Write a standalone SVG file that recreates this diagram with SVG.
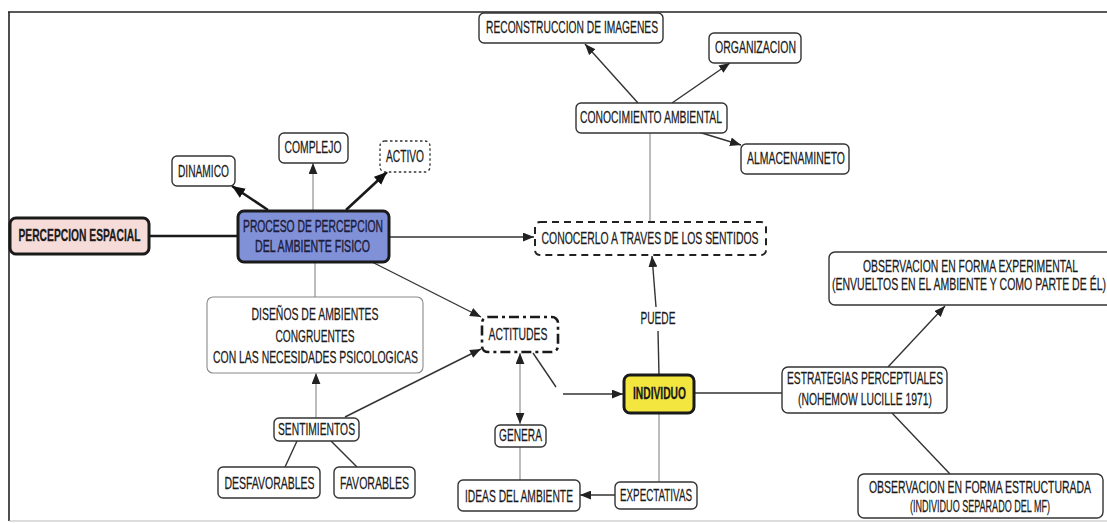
<svg xmlns="http://www.w3.org/2000/svg" width="1107" height="523" viewBox="0 0 1107 523">
  <style>
    .box { fill: #ffffff; stroke: #333333; stroke-width: 1.4; }
    .lite { fill: #ffffff; stroke: #8a8a8a; stroke-width: 1.1; }
    /* labels are set in a horizontally compressed sans (scale 0.66 on x) */
    .t { font-family: "Liberation Sans", Arial, sans-serif; font-size: 16px; fill: #1a1a1a; stroke: #1a1a1a; stroke-width: 0.25; text-anchor: middle; dominant-baseline: central; }
    .m { font-size: 17px; }
    .b { font-weight: bold; font-size: 16px; }
    .nv { fill: #1c1c3a; stroke: #1c1c3a; stroke-width: 0.4; }
    .ln { fill: none; stroke: #333333; stroke-width: 1.4; }
    .thin { fill: none; stroke: #7a7a7a; stroke-width: 1; }
    .thick { fill: none; stroke: #1a1a1a; stroke-width: 2.6; }
  </style>
  <defs>
    <marker id="arr" viewBox="0 0 10 8" refX="10" refY="4" markerWidth="11" markerHeight="9" markerUnits="userSpaceOnUse" orient="auto-start-reverse">
      <path d="M0,0 L10,4 L0,8 z" fill="#222222"/>
    </marker>
    <marker id="arrB" viewBox="0 0 12 10" refX="12" refY="5" markerWidth="13" markerHeight="11" markerUnits="userSpaceOnUse" orient="auto">
      <path d="M0,0 L12,5 L0,10 z" fill="#111111"/>
    </marker>
  </defs>

  <rect width="1107" height="523" fill="#ffffff"/>

  <!-- outer frame -->
  <g id="frame" fill="none" stroke="#222222">
    <line x1="8" y1="12" x2="1107" y2="12" stroke-width="1.6"/>
    <line x1="9" y1="12" x2="9" y2="521" stroke-width="1.6"/>
    <line x1="9" y1="521" x2="1107" y2="521" stroke="#bbbbbb" stroke-width="1"/>
  </g>

  <!-- connectors -->
  <g id="connectors">
    <line class="thick" x1="149" y1="236" x2="238" y2="236"/>
    <line class="thick" x1="268" y1="210" x2="232" y2="186" marker-end="url(#arrB)"/>
    <line class="thin" x1="313" y1="211" x2="313" y2="163" marker-end="url(#arr)"/>
    <line class="thick" x1="346" y1="210" x2="387" y2="172" marker-end="url(#arrB)"/>
    <line class="ln" x1="389" y1="237" x2="534" y2="237" marker-end="url(#arr)"/>
    <line class="ln" x1="372" y1="262" x2="481" y2="317" marker-end="url(#arr)"/>
    <line class="thin" x1="315" y1="262" x2="315" y2="297"/>
    <line class="ln" x1="638" y1="103" x2="585" y2="44" marker-end="url(#arr)"/>
    <line class="ln" x1="672" y1="103" x2="730" y2="63" marker-end="url(#arr)"/>
    <line class="ln" x1="692" y1="130" x2="741" y2="145" marker-end="url(#arr)"/>
    <line class="thin" x1="650" y1="133" x2="650" y2="222"/>
    <line class="ln" x1="659" y1="375" x2="658" y2="331"/>
    <line class="ln" x1="656" y1="307" x2="652" y2="256" marker-end="url(#arr)"/>
    <line class="thin" x1="316" y1="418" x2="316" y2="373" marker-end="url(#arr)"/>
    <line class="ln" x1="345" y1="417" x2="481" y2="349" marker-end="url(#arr)"/>
    <line class="ln" x1="297" y1="441" x2="285" y2="467"/>
    <line class="ln" x1="331" y1="441" x2="357" y2="467"/>
    <line class="thin" x1="520" y1="353" x2="520" y2="424" marker-start="url(#arr)" marker-end="url(#arr)"/>
    <line class="thin" x1="520" y1="447" x2="520" y2="480"/>
    <line class="ln" x1="533" y1="353" x2="556" y2="387"/>
    <line class="ln" x1="563" y1="394" x2="623" y2="394" marker-end="url(#arr)"/>
    <line class="thin" x1="659" y1="413" x2="659" y2="482"/>
    <line class="ln" x1="615" y1="495" x2="580" y2="495" marker-end="url(#arr)"/>
    <line class="ln" x1="694" y1="393" x2="782" y2="393"/>
    <line class="ln" x1="888" y1="367" x2="945" y2="306" marker-end="url(#arr)"/>
    <line class="ln" x1="892" y1="413" x2="950" y2="474"/>
  </g>

  <g id="percepcion-espacial">
    <rect x="10" y="218" width="139" height="36" rx="6" fill="#f6dcd8" stroke="#1a1a1a" stroke-width="3"/>
    <text class="t b" transform="scale(0.66 1)" x="120.45" y="236" textLength="184.85" lengthAdjust="spacingAndGlyphs">PERCEPCION ESPACIAL</text>
  </g>

  <g id="proceso">
    <rect x="238" y="211" width="151" height="51" rx="6" fill="#8191d8" stroke="#1a1a1a" stroke-width="3"/>
    <text class="t nv" transform="scale(0.66 1)" x="474.24" y="227" textLength="212.12" lengthAdjust="spacingAndGlyphs">PROCESO DE PERCEPCION</text>
    <text class="t nv" transform="scale(0.66 1)" x="473.48" y="247" textLength="174.24" lengthAdjust="spacingAndGlyphs">DEL AMBIENTE FISICO</text>
  </g>

  <g id="dinamico">
    <rect class="box" x="172" y="156" width="63" height="30" rx="5"/>
    <text class="t" transform="scale(0.66 1)" x="308.33" y="172" textLength="77.27" lengthAdjust="spacingAndGlyphs">DINAMICO</text>
  </g>

  <g id="complejo">
    <rect class="box" x="279" y="133" width="69" height="30" rx="5"/>
    <text class="t" transform="scale(0.66 1)" x="474.24" y="148" textLength="86.36" lengthAdjust="spacingAndGlyphs">COMPLEJO</text>
  </g>

  <g id="activo">
    <rect x="380" y="141" width="50" height="31" rx="5" fill="#ffffff" stroke="#333333" stroke-width="1.3" stroke-dasharray="2.5 2.5"/>
    <text class="t" transform="scale(0.66 1)" x="613.64" y="157" textLength="57.58" lengthAdjust="spacingAndGlyphs">ACTIVO</text>
  </g>

  <g id="reconstruccion">
    <rect class="box" x="479" y="13" width="184" height="30" rx="5"/>
    <text class="t" transform="scale(0.66 1)" x="866.67" y="28" font-size="15" textLength="260.61" lengthAdjust="spacingAndGlyphs">RECONSTRUCCION DE IMAGENES</text>
  </g>

  <g id="organizacion">
    <rect class="box" x="709" y="33" width="92" height="30" rx="5"/>
    <text class="t" transform="scale(0.66 1)" x="1144.7" y="48" textLength="122.73" lengthAdjust="spacingAndGlyphs">ORGANIZACION</text>
  </g>

  <g id="conocimiento">
    <rect class="box" x="576" y="103" width="151" height="30" rx="5"/>
    <text class="t" transform="scale(0.66 1)" x="986.36" y="118" textLength="215.15" lengthAdjust="spacingAndGlyphs">CONOCIMIENTO AMBIENTAL</text>
  </g>

  <g id="almacenamiento">
    <rect class="box" x="741" y="144" width="108" height="30" rx="5"/>
    <text class="t" transform="scale(0.66 1)" x="1206.06" y="159" textLength="148.48" lengthAdjust="spacingAndGlyphs">ALMACENAMINETO</text>
  </g>

  <g id="conocerlo">
    <rect x="535" y="222" width="231" height="33" rx="5" fill="#ffffff" stroke="#222222" stroke-width="2" stroke-dasharray="7 5"/>
    <text class="t" transform="scale(0.66 1)" x="984.85" y="238.5" textLength="328.79" lengthAdjust="spacingAndGlyphs">CONOCERLO A TRAVES DE LOS SENTIDOS</text>
  </g>

  <g id="actitudes">
    <rect x="482" y="317" width="76" height="35" rx="6" fill="#ffffff" stroke="#1a1a1a" stroke-width="2.6" stroke-dasharray="10 4 3 4"/>
    <text class="t m" transform="scale(0.66 1)" x="784.85" y="334" textLength="89.39" lengthAdjust="spacingAndGlyphs">ACTITUDES</text>
  </g>

  <g id="puede">
    <text class="t" transform="scale(0.66 1)" x="996.97" y="319" textLength="53.03" lengthAdjust="spacingAndGlyphs">PUEDE</text>
  </g>

  <g id="disenos">
    <rect class="lite" x="207" y="297" width="216" height="76" rx="6"/>
    <text class="t" transform="scale(0.66 1)" x="477.27" y="315" textLength="192.42" lengthAdjust="spacingAndGlyphs">DISEÑOS DE AMBIENTES</text>
    <text class="t" transform="scale(0.66 1)" x="477.27" y="337" textLength="119.70" lengthAdjust="spacingAndGlyphs">CONGRUENTES</text>
    <text class="t" transform="scale(0.66 1)" x="478.03" y="358" textLength="310.61" lengthAdjust="spacingAndGlyphs">CON LAS NECESIDADES PSICOLOGICAS</text>
  </g>

  <g id="sentimientos">
    <rect class="box" x="274" y="418" width="85" height="23" rx="5"/>
    <text class="t" transform="scale(0.66 1)" x="479.55" y="429.5" textLength="116.67" lengthAdjust="spacingAndGlyphs">SENTIMIENTOS</text>
  </g>

  <g id="desfavorables">
    <rect class="box" x="218" y="467" width="102" height="31" rx="5"/>
    <text class="t m" transform="scale(0.66 1)" x="408.33" y="483" textLength="136.36" lengthAdjust="spacingAndGlyphs">DESFAVORABLES</text>
  </g>

  <g id="favorables">
    <rect class="box" x="334" y="467" width="81" height="31" rx="5"/>
    <text class="t m" transform="scale(0.66 1)" x="567.42" y="483" textLength="104.55" lengthAdjust="spacingAndGlyphs">FAVORABLES</text>
  </g>

  <g id="genera">
    <rect class="box" x="495" y="425" width="51" height="22" rx="5"/>
    <text class="t" transform="scale(0.66 1)" x="788.64" y="436" textLength="65.15" lengthAdjust="spacingAndGlyphs">GENERA</text>
  </g>

  <g id="ideas">
    <rect class="box" x="458" y="480" width="122" height="31" rx="5"/>
    <text class="t m" transform="scale(0.66 1)" x="786.36" y="496" textLength="163.64" lengthAdjust="spacingAndGlyphs">IDEAS DEL AMBIENTE</text>
  </g>

  <g id="expectativas">
    <rect class="box" x="615" y="482" width="82" height="27" rx="5"/>
    <text class="t" transform="scale(0.66 1)" x="993.94" y="495.5" textLength="109.09" lengthAdjust="spacingAndGlyphs">EXPECTATIVAS</text>
  </g>

  <g id="individuo">
    <rect x="624" y="375" width="70" height="38" rx="6" fill="#f3e63e" stroke="#1a1a1a" stroke-width="3"/>
    <text class="t b" transform="scale(0.66 1)" x="999.24" y="394" textLength="80.30" lengthAdjust="spacingAndGlyphs">INDIVIDUO</text>
  </g>

  <g id="estrategias">
    <rect class="box" x="782" y="367" width="165" height="46" rx="6"/>
    <text class="t" transform="scale(0.66 1)" x="1310.61" y="379" textLength="236.36" lengthAdjust="spacingAndGlyphs">ESTRATEGIAS PERCEPTUALES</text>
    <text class="t" transform="scale(0.66 1)" x="1310.61" y="400" textLength="203.03" lengthAdjust="spacingAndGlyphs">(NOHEMOW LUCILLE 1971)</text>
  </g>

  <g id="experimental">
    <rect class="box" x="829" y="252" width="286" height="53" rx="6"/>
    <text class="t" transform="scale(0.66 1)" x="1470.45" y="267" textLength="325.76" lengthAdjust="spacingAndGlyphs">OBSERVACION EN FORMA EXPERIMENTAL</text>
    <text class="t" transform="scale(0.66 1)" x="1468.18" y="285" textLength="415.15" lengthAdjust="spacingAndGlyphs">(ENVUELTOS EN EL AMBIENTE Y COMO PARTE DE ÉL)</text>
  </g>

  <g id="estructurada">
    <rect class="box" x="858" y="474" width="245" height="44" rx="6"/>
    <text class="t" transform="scale(0.66 1)" x="1484.85" y="488" textLength="336.36" lengthAdjust="spacingAndGlyphs">OBSERVACION EN FORMA ESTRUCTURADA</text>
    <text class="t" transform="scale(0.66 1)" x="1484.85" y="507" textLength="212.12" lengthAdjust="spacingAndGlyphs">(INDIVIDUO SEPARADO DEL MF)</text>
  </g>
</svg>
